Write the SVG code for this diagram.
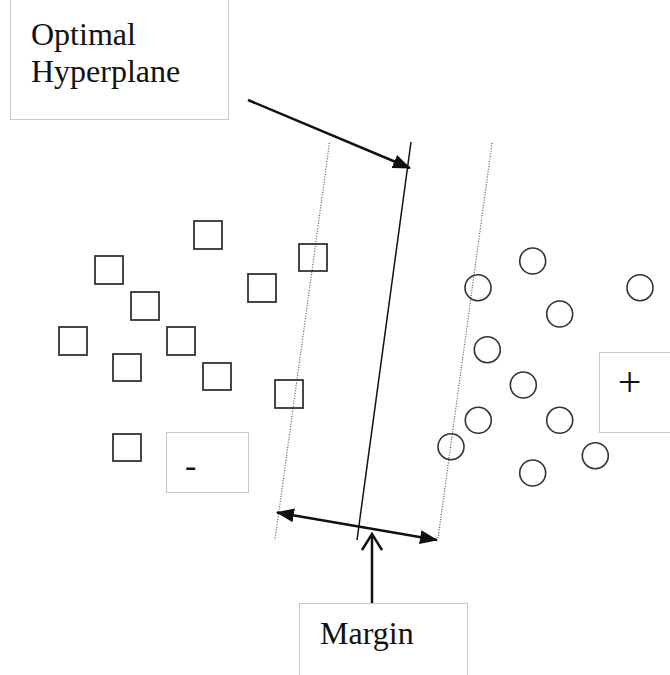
<svg xmlns="http://www.w3.org/2000/svg" width="670" height="675" viewBox="0 0 670 675">
<style>
.box{fill:#fff;stroke:#c8c8c8;stroke-width:1}
.lbl{font-family:"Liberation Serif","Times New Roman",serif;fill:#111;font-size:32px}
.sq{fill:none;stroke:#333;stroke-width:1.8}
.ci{fill:none;stroke:#333;stroke-width:1.6}
.dot{stroke:#555;stroke-width:1.2;stroke-dasharray:1 1.6;fill:none}
.arr{stroke:#111;stroke-width:2.5;fill:none}
</style>
<defs>
<marker id="ah" viewBox="0 0 18 14" refX="17" refY="7" markerWidth="18" markerHeight="14" markerUnits="userSpaceOnUse" orient="auto-start-reverse">
<path d="M0,0 L18,7 L0,14 z" fill="#111"/>
</marker>
<marker id="open" viewBox="0 0 22 22" refX="20" refY="11" markerWidth="22" markerHeight="22" markerUnits="userSpaceOnUse" orient="auto">
<path d="M4,1 L20,11 L4,21" fill="none" stroke="#111" stroke-width="2.5"/>
</marker>
</defs>
<rect width="670" height="675" fill="#fff"/>
<g id="label-hyperplane">
<rect class="box" x="10.5" y="-2" width="218" height="121.5"/>
<text class="lbl" x="31" y="45">Optimal</text>
<text class="lbl" x="31" y="81.5">Hyperplane</text>
</g>
<g id="label-minus">
<rect class="box" x="166.5" y="432.5" width="82" height="60"/>
<text class="lbl" x="185" y="477" style="font-size:34px">-</text>
</g>
<g id="label-plus">
<rect class="box" x="599.5" y="352.5" width="80" height="80"/>
<text class="lbl" x="629.5" y="396" text-anchor="middle" style="font-size:42px">+</text>
</g>
<g id="label-margin">
<rect class="box" x="299.5" y="603.5" width="168" height="80"/>
<text class="lbl" x="320" y="643.5">Margin</text>
</g>
<g id="hyperplane">
<line x1="411" y1="142" x2="357" y2="540" stroke="#111" stroke-width="1.5"/>
<line class="dot" x1="329.5" y1="143" x2="275" y2="540"/>
<line class="dot" x1="492" y1="143" x2="438" y2="539"/>
</g>
<g id="squares">
<rect class="sq" x="194" y="221" width="28" height="28"/>
<rect class="sq" x="95" y="256" width="28" height="28"/>
<rect class="sq" x="131" y="292" width="28" height="28"/>
<rect class="sq" x="59" y="327" width="28" height="28"/>
<rect class="sq" x="167" y="327" width="28" height="28"/>
<rect class="sq" x="113" y="354" width="28" height="27"/>
<rect class="sq" x="203" y="363" width="28" height="27"/>
<rect class="sq" x="248" y="274" width="28" height="28"/>
<rect class="sq" x="299" y="244" width="28" height="27"/>
<rect class="sq" x="275" y="380" width="28" height="28"/>
<rect class="sq" x="113" y="434" width="28" height="27"/>
</g>
<g id="circles">
<circle class="ci" cx="532.7" cy="261" r="13"/>
<circle class="ci" cx="478" cy="287.7" r="13"/>
<circle class="ci" cx="640" cy="287.7" r="13"/>
<circle class="ci" cx="559.7" cy="314" r="13"/>
<circle class="ci" cx="487.3" cy="349.7" r="13"/>
<circle class="ci" cx="523.3" cy="385" r="13"/>
<circle class="ci" cx="478.3" cy="420.3" r="13"/>
<circle class="ci" cx="559.7" cy="420.3" r="13"/>
<circle class="ci" cx="451" cy="446.7" r="13"/>
<circle class="ci" cx="595.3" cy="455.7" r="13"/>
<circle class="ci" cx="532.7" cy="473" r="13"/>
</g>
<g id="connectors">
<line class="arr" x1="248" y1="100" x2="410" y2="168" marker-end="url(#ah)"/>
<line class="arr" x1="277" y1="512.5" x2="437" y2="540" marker-start="url(#ah)" marker-end="url(#ah)"/>
<line class="arr" x1="372" y1="603" x2="372" y2="534" marker-end="url(#open)"/>
</g>
</svg>
